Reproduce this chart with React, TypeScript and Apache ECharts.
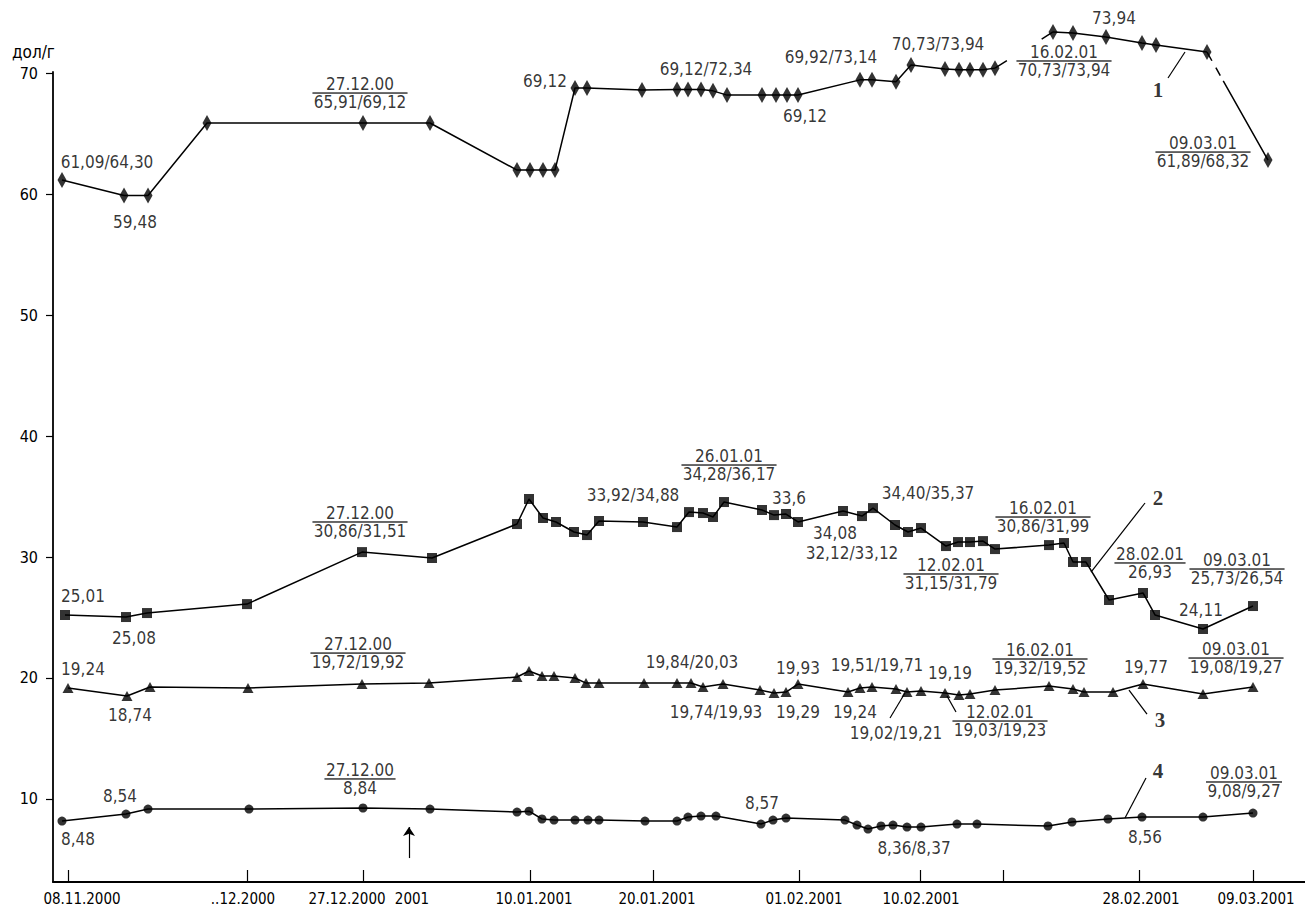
import React, { useEffect, useRef } from "react";
import * as echarts from "echarts";

const FONT = '"DejaVu Sans Condensed", "DejaVu Sans", sans-serif';
const INK = "#000";
const NOTE_SIZE = 17;

// x = position along the chart's non-uniform date scale
const s1Pos = [62, 124, 148, 207, 363, 430, 517, 530, 543, 555, 575, 587, 642, 677, 688, 701, 713, 727, 762, 776, 787, 798, 860, 872, 896, 911, 945, 959, 970, 983, 995, 1053, 1073, 1106, 1142, 1156, 1207, 1268];
const s1Val = [61.18, 59.9, 59.9, 65.89, 65.89, 65.89, 62.0, 62.0, 62.0, 62.0, 68.79, 68.79, 68.63, 68.67, 68.67, 68.67, 68.55, 68.2, 68.2, 68.2, 68.2, 68.2, 69.46, 69.46, 69.3, 70.69, 70.35, 70.3, 70.3, 70.3, 70.43, 73.42, 73.33, 73.0, 72.5, 72.34, 71.76, 62.83];

const s2Pos = [65, 126, 147, 247, 362, 432, 517, 529, 543, 556, 574, 587, 599, 643, 677, 689, 703, 713, 724, 762, 774, 786, 798, 843, 862, 873, 895, 908, 921, 946, 958, 970, 983, 995, 1049, 1064, 1073, 1086, 1109, 1143, 1155, 1203, 1253];
const s2Val = [25.21, 25.04, 25.37, 26.11, 30.41, 29.92, 32.73, 34.8, 33.23, 32.9, 32.07, 31.82, 32.98, 32.9, 32.48, 33.72, 33.64, 33.31, 34.55, 33.89, 33.47, 33.56, 32.9, 33.81, 33.39, 34.05, 32.65, 32.07, 32.4, 30.91, 31.24, 31.24, 31.32, 30.66, 30.99, 31.16, 29.59, 29.59, 26.45, 27.03, 25.21, 24.05, 25.95];

const s3Pos = [68, 127, 150, 248, 362, 429, 517, 529, 542, 554, 575, 586, 599, 644, 677, 691, 703, 723, 760, 774, 786, 798, 848, 860, 872, 896, 907, 921, 945, 959, 970, 995, 1049, 1073, 1084, 1113, 1143, 1203, 1253];
const s3Val = [19.17, 18.51, 19.25, 19.17, 19.5, 19.58, 20.08, 20.58, 20.16, 20.16, 20.0, 19.58, 19.58, 19.58, 19.58, 19.58, 19.25, 19.5, 19.0, 18.76, 18.84, 19.5, 18.84, 19.17, 19.25, 19.09, 18.84, 18.92, 18.76, 18.59, 18.67, 19.0, 19.33, 19.09, 18.84, 18.84, 19.5, 18.67, 19.25];

const s4Pos = [62, 126, 148, 249, 363, 430, 517, 529, 542, 554, 575, 588, 599, 645, 677, 688, 701, 716, 761, 773, 786, 845, 857, 868, 881, 893, 907, 921, 957, 977, 1048, 1072, 1108, 1142, 1203, 1253];
const s4Val = [8.17, 8.75, 9.16, 9.16, 9.25, 9.16, 8.91, 8.99, 8.34, 8.25, 8.25, 8.25, 8.25, 8.17, 8.17, 8.5, 8.58, 8.58, 7.92, 8.25, 8.42, 8.25, 7.84, 7.51, 7.76, 7.84, 7.67, 7.67, 7.92, 7.92, 7.76, 8.09, 8.34, 8.5, 8.5, 8.83];

const xTickPos = [68, 247, 363, 530, 653, 799, 920, 1003, 1139, 1253];
const xLabelPos = [82, 243, 347, 412, 534, 657, 804, 921, 1141, 1256];
const xLabelText = ["08.11.2000", "..12.2000", "27.12.2000", "2001", "10.01.2001", "20.01.2001", "01.02.2001", "10.02.2001", "28.02.2001", "09.03.2001"];
const yTicks = [10, 20, 30, 40, 50, 60, 70];

// annotations (label centre in axis units)
const notes: { at: number[]; date?: string; text: string }[] = [
  { at: [107, 62.66], text: "61,09/64,30" },
  { at: [135, 57.7], text: "59,48" },
  { at: [360, 68.37], date: "27.12.00", text: "65,91/69,12" },
  { at: [545, 69.36], text: "69,12" },
  { at: [706, 70.35], text: "69,12/72,34" },
  { at: [805, 66.47], text: "69,12" },
  { at: [831, 71.35], text: "69,92/73,14" },
  { at: [938, 72.42], text: "70,73/73,94" },
  { at: [1064, 71.02], date: "16.02.01", text: "70,73/73,94" },
  { at: [1114, 74.57], text: "73,94" },
  { at: [1203, 63.49], date: "09.03.01", text: "61,89/68,32" },

  { at: [83, 26.78], text: "25,01" },
  { at: [134, 23.3], text: "25,08" },
  { at: [360, 32.9], date: "27.12.00", text: "30,86/31,51" },
  { at: [633, 35.13], text: "33,92/34,88" },
  { at: [729, 37.61], date: "26.01.01", text: "34,28/36,17" },
  { at: [789, 34.88], text: "33,6" },
  { at: [835, 31.99], text: "34,08" },
  { at: [852, 30.33], text: "32,12/33,12" },
  { at: [928, 35.29], text: "34,40/35,37" },
  { at: [951, 28.6], date: "12.02.01", text: "31,15/31,79" },
  { at: [1043, 33.31], date: "16.02.01", text: "30,86/31,99" },
  { at: [1150, 29.51], date: "28.02.01", text: "26,93" },
  { at: [1237, 29.01], date: "09.03.01", text: "25,73/26,54" },
  { at: [1201, 25.62], text: "24,11" },

  { at: [83, 20.74], text: "19,24" },
  { at: [130, 16.94], text: "18,74" },
  { at: [358, 22.06], date: "27.12.00", text: "19,72/19,92" },
  { at: [692, 21.32], text: "19,84/20,03" },
  { at: [716, 17.19], text: "19,74/19,93" },
  { at: [798, 20.82], text: "19,93" },
  { at: [798, 17.19], text: "19,29" },
  { at: [877, 21.07], text: "19,51/19,71" },
  { at: [855, 17.19], text: "19,24" },
  { at: [896, 15.45], text: "19,02/19,21" },
  { at: [950, 20.41], text: "19,19" },
  { at: [1000, 16.44], date: "12.02.01", text: "19,03/19,23" },
  { at: [1040, 21.57], date: "16.02.01", text: "19,32/19,52" },
  { at: [1146, 20.9], text: "19,77" },
  { at: [1236, 21.65], date: "09.03.01", text: "19,08/19,27" },

  { at: [78, 6.68], text: "8,48" },
  { at: [120, 10.24], text: "8,54" },
  { at: [360, 11.65], date: "27.12.00", text: "8,84" },
  { at: [762, 9.66], text: "8,57" },
  { at: [914, 5.94], text: "8,36/8,37" },
  { at: [1145, 6.85], text: "8,56" },
  { at: [1244, 11.4], date: "09.03.01", text: "9,08/9,27" },
];

const curveNames: { at: number[]; text: string }[] = [
  { at: [1158, 68.62], text: "1" },
  { at: [1158, 34.88], text: "2" },
  { at: [1160, 16.52], text: "3" },
  { at: [1158, 12.31], text: "4" },
];

const leaders: number[][][] = [
  [[1168, 69.61], [1185, 71.76]],
  [[1145, 34.47], [1091, 28.76]],
  [[890, 16.69], [905, 18.76]],
  [[947, 18.51], [956, 17.19]],
  [[1147, 17.02], [1129, 19.0]],
  [[1146, 11.73], [1125, 8.42]],
];

const arrow2001 = [[409, 5.11], [409, 7.67]];

const pairs = (p: number[], v: number[]) => p.map((x, i) => [x, v[i]]);

function buildOption() {
  const s1 = pairs(s1Pos, s1Val);
  const s2 = pairs(s2Pos, s2Val);
  const s3 = pairs(s3Pos, s3Val);
  const s4 = pairs(s4Pos, s4Val);
  const brk = 30;
  const n1 = s1.length;

  const ctx = document.createElement("canvas").getContext("2d")!;
  ctx.font = `${NOTE_SIZE}px ${FONT}`;
  const measure = (t: string) => ctx.measureText(t).width;

  const line = (data: number[][], dash?: any) => ({
    type: "line",
    data,
    symbol: "none",
    clip: false,
    silent: true,
    z: 2,
    lineStyle: { color: INK, width: 1.5, type: dash || "solid" },
  });
  const marks = (data: number[][], symbol: string, size: any) => ({
    type: "scatter",
    data,
    symbol,
    symbolSize: size,
    clip: false,
    silent: true,
    z: 3,
    itemStyle: { color: INK },
  });

  const tok = { fontFamily: FONT, fontSize: NOTE_SIZE, color: INK, lineHeight: 18, align: "center" };
  const richFor = (w: number) => ({
    d: tok,
    v: tok,
    hr: { borderColor: INK, borderWidth: 0.9, width: w, height: 0, align: "center" },
  });

  return {
    animation: false,
    backgroundColor: "#fff",
    grid: { left: 53, right: 0, top: 72, bottom: 32, containLabel: false },
    xAxis: {
      type: "value",
      min: 53,
      max: 1305,
      splitLine: { show: false },
      axisLine: { show: true, lineStyle: { color: INK, width: 1.8 } },
      axisTick: { show: true, inside: true, length: 12, customValues: xTickPos, lineStyle: { color: INK, width: 1.2 } },
      axisLabel: {
        show: true,
        customValues: xLabelPos,
        margin: 9,
        color: INK,
        fontFamily: FONT,
        fontSize: 15,
        formatter: (v: number) => {
          const i = xLabelPos.indexOf(v);
          return i >= 0 ? xLabelText[i] : "";
        },
      },
    },
    yAxis: {
      type: "value",
      min: 3.13,
      max: 70.11,
      splitLine: { show: false },
      axisLine: { show: true, lineStyle: { color: INK, width: 1.8 } },
      axisTick: { show: true, inside: false, length: 7, customValues: yTicks, lineStyle: { color: INK, width: 1.2 } },
      axisLabel: { show: true, customValues: yTicks, margin: 15, color: INK, fontFamily: FONT, fontSize: 16 },
    },
    graphic: [
      {
        type: "text",
        left: 12,
        top: 43,
        style: { text: "дол/г", fill: INK, font: `17px ${FONT}` },
      },
    ],
    series: [
      line(s1.slice(0, brk + 1)),
      line(s1.slice(brk, brk + 2), [14, 41, 14]),
      line(s1.slice(brk + 1, n1 - 1)),
      line(s1.slice(n1 - 2), [10, 8, 9, 6, 300]),
      line(s2),
      line(s3),
      line(s4),
      marks(s1, "diamond", [9, 16]),
      marks(s2, "rect", 10),
      marks(s3, "triangle", [11, 10]),
      marks(s4, "circle", 9),
      {
        type: "scatter",
        symbolSize: 0,
        clip: false,
        silent: true,
        z: 5,
        data: notes.map((a) => {
          const w = Math.ceil(Math.max(measure(a.text), a.date ? measure(a.date) : 0)) + 2;
          return {
            value: a.at,
            label: {
              formatter: a.date ? `{d|${a.date}}\n{hr|}\n{v|${a.text}}` : `{v|${a.text}}`,
              rich: richFor(w),
            },
          };
        }),
        label: { show: true, position: "inside", align: "center", color: INK, rich: richFor(80) },
      },
      {
        type: "scatter",
        symbolSize: 0,
        clip: false,
        silent: true,
        z: 5,
        data: curveNames.map((a) => ({ value: a.at, label: { formatter: a.text } })),
        label: {
          show: true,
          position: "inside",
          color: INK,
          fontFamily: '"Liberation Serif", serif',
          fontWeight: "bold",
          fontSize: 21,
        },
      },
      {
        type: "lines",
        coordinateSystem: "cartesian2d",
        silent: true,
        clip: false,
        z: 4,
        data: leaders.map((c) => ({ coords: c })),
        lineStyle: { color: INK, width: 1.2, opacity: 1, curveness: 0 },
        symbol: "none",
      },
      {
        type: "lines",
        coordinateSystem: "cartesian2d",
        silent: true,
        clip: false,
        z: 4,
        data: [{ coords: arrow2001 }],
        lineStyle: { color: INK, width: 1.2, opacity: 1, curveness: 0 },
        symbol: ["none", "arrow"],
        symbolSize: 9,
      },
    ],
  };
}

export default function App() {
  const ref = useRef<HTMLDivElement>(null);
  useEffect(() => {
    document.body.style.margin = "0";
    const chart = echarts.init(ref.current!, null, { renderer: "svg" });
    chart.setOption(buildOption() as any);
    return () => chart.dispose();
  }, []);
  return <div ref={ref} style={{ width: 1305, height: 914 }} />;
}
